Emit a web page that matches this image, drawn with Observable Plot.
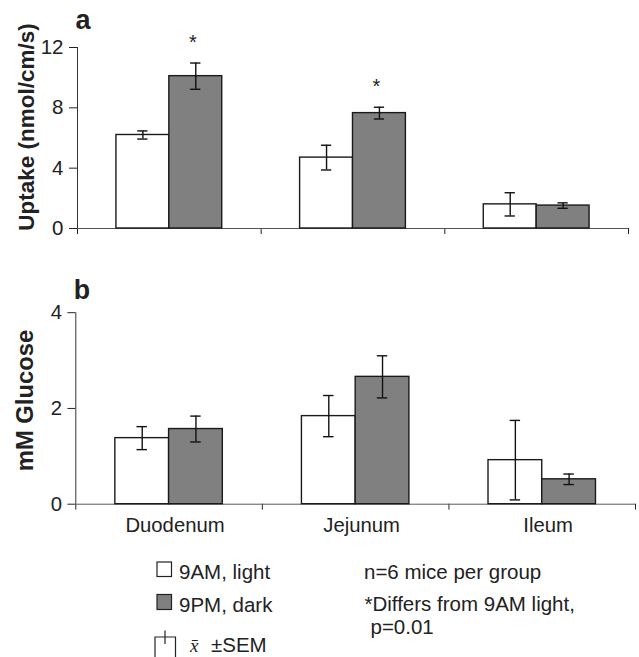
<!DOCTYPE html>
<html>
<head>
<meta charset="utf-8">
<script src="https://cdn.jsdelivr.net/npm/d3@7"></script>
<script src="https://cdn.jsdelivr.net/npm/@observablehq/plot@0.6"></script>
<style>
  html, body { margin: 0; padding: 0; background: #fff; overflow: hidden; }
  #wrap { position: relative; width: 639px; height: 657px; overflow: hidden; font-family: "Liberation Sans", Arial, sans-serif; }
  #wrap > svg, #wrap > .pa, #wrap > .pb { position: absolute; left: 0; }
</style>
</head>
<body>
<div id="wrap"></div>
<script>
// ---- data ----
const categories = ["Duodenum", "Jejunum", "Ileum"];
const groups = ["9AM, light", "9PM, dark"];

const uptake9AM = [6.2, 4.7, 1.6];
const uptake9AMsem = [0.27, 0.82, 0.77];
const uptake9PM = [10.1, 7.65, 1.52];
const uptake9PMsem = [0.87, 0.39, 0.18];
const uptake9PMdiffers = [true, true, false];

const glucose9AM = [1.38, 1.84, 0.92];
const glucose9AMsem = [0.24, 0.43, 0.83];
const glucose9PM = [1.57, 2.66, 0.52];
const glucose9PMsem = [0.27, 0.44, 0.11];

const uptakeTicks = [0, 4, 8, 12];
const glucoseTicks = [0, 2, 4];
const boundaryTicks = [0, 1, 2, 3];

const fills = ["#ffffff", "#808080"];
const BW = 0.288;   // bar width as a fraction of a category band
const CAP = 0.028;  // half cap width, fraction of a band

function buildRows(m0, s0, m1, s1, sig1) {
  const rows = [];
  categories.forEach((c, i) => {
    rows.push({cat: c, i, g: groups[0], k: 0, mean: m0[i], sem: s0[i], sig: false});
    rows.push({cat: c, i, g: groups[1], k: 1, mean: m1[i], sem: s1[i], sig: sig1 ? sig1[i] : false});
  });
  return rows;
}
const center = d => d.i + 0.5 + (d.k - 0.5) * BW;

function panel(o) {
  const rows = o.rows;
  const marks = [
    Plot.ruleY([0], {stroke: "#555", strokeWidth: 1}),
    Plot.ruleX([0], {stroke: "#333", strokeWidth: 1}),
    Plot.rect(rows, {
      x1: d => d.i + 0.5 + (d.k - 1) * BW,
      x2: d => d.i + 0.5 + d.k * BW,
      y1: 0, y2: "mean",
      fill: d => fills[d.k], stroke: "#1a1a1a", strokeWidth: 1.4
    }),
    Plot.ruleX(rows, {x: center, y1: d => d.mean - d.sem, y2: d => d.mean + d.sem, stroke: "#111", strokeWidth: 1.4}),
    Plot.ruleY(rows, {y: d => d.mean + d.sem, x1: d => center(d) - CAP, x2: d => center(d) + CAP, stroke: "#111", strokeWidth: 1.4}),
    Plot.ruleY(rows, {y: d => d.mean - d.sem, x1: d => center(d) - CAP, x2: d => center(d) + CAP, stroke: "#111", strokeWidth: 1.4}),
    Plot.text(rows.filter(d => d.sig), {x: center, y: d => d.mean + d.sem, text: () => "*", lineAnchor: "bottom", dy: -14, dx: -3, fontSize: 20}),
    Plot.text([o.title], {text: d => d, frameAnchor: "left", rotate: -90, dx: o.titleDx, dy: o.titleDy, fontWeight: "bold", fontSize: o.titleSize, textAnchor: "middle"}),
    Plot.text([o.letter], {text: d => d, frameAnchor: "top-left", textAnchor: "start", lineAnchor: "bottom", dy: o.letterDy, dx: -2, fontWeight: "bold", fontSize: 27})
  ];
  if (o.showLabels) {
    marks.push(Plot.text(categories, {x: (d, i) => i + 0.5, text: d => d, frameAnchor: "bottom", lineAnchor: "top", dy: 14, dx: 6}));
  }
  return Plot.plot({
    width: o.width, height: o.height,
    marginLeft: o.marginLeft, marginRight: o.marginRight,
    marginTop: o.marginTop, marginBottom: o.marginBottom,
    style: {fontFamily: "'Liberation Sans', Arial, sans-serif", fontSize: "20.5px", color: "#222", background: "transparent", overflow: "visible"},
    x: {domain: [0, 3], ticks: boundaryTicks, tickFormat: () => "", tickSize: 6, label: null},
    y: {domain: [o.yTicks[0], o.yTicks[o.yTicks.length - 1]], ticks: o.yTicks, tickFormat: d => String(d), tickSize: 8, tickPadding: 6, label: null},
    marks
  });
}

const wrap = document.getElementById("wrap");

const a = panel({
  rows: buildRows(uptake9AM, uptake9AMsem, uptake9PM, uptake9PMsem, uptake9PMdiffers),
  yTicks: uptakeTicks, title: "Uptake (nmol/cm/s)", letter: "a",
  width: 639, height: 240, marginLeft: 77, marginRight: 11, marginTop: 47, marginBottom: 12,
  titleDx: -51, titleDy: -11, titleSize: 22.5, letterDy: -19, showLabels: false
});
a.classList.add("pa");
a.style.top = "0px";
wrap.appendChild(a);

const b = panel({
  rows: buildRows(glucose9AM, glucose9AMsem, glucose9PM, glucose9PMsem, null),
  yTicks: glucoseTicks, title: "mM Glucose", letter: "b",
  width: 645, height: 286, marginLeft: 76, marginRight: 4, marginTop: 52.7, marginBottom: 40,
  titleDx: -50.5, titleDy: -8, titleSize: 24, letterDy: -13.4, showLabels: true
});
b.classList.add("pb");
b.style.top = "260px";
wrap.appendChild(b);

// ---- legend ----
const leg = d3.select(wrap).append("svg")
  .attr("width", 639).attr("height", 657)
  .style("top", "0px")
  .style("font-family", "'Liberation Sans', Arial, sans-serif")
  .style("font-size", "20.5px")
  .attr("fill", "#222");

leg.append("rect").attr("x", 157).attr("y", 562).attr("width", 14.5).attr("height", 14.5)
  .attr("fill", fills[0]).attr("stroke", "#222").attr("stroke-width", 1.2);
leg.append("text").attr("x", 179).attr("y", 579).text(groups[0]);
leg.append("rect").attr("x", 157).attr("y", 594.5).attr("width", 14.5).attr("height", 15)
  .attr("fill", fills[1]).attr("stroke", "#222").attr("stroke-width", 1.2);
leg.append("text").attr("x", 179).attr("y", 611.5).text(groups[1]);

// error-bar key
leg.append("path").attr("d", "M155,660V637H175.5V660").attr("fill", "none").attr("stroke", "#222").attr("stroke-width", 1.2);
leg.append("path").attr("d", "M165,630.5V644").attr("fill", "none").attr("stroke", "#222").attr("stroke-width", 1.2);
leg.append("text").attr("x", 190).attr("y", 651.5).attr("font-family", "'Liberation Serif', 'DejaVu Serif', serif")
  .attr("font-style", "italic").attr("font-size", 19).text("x\u0304");
leg.append("text").attr("x", 211).attr("y", 651.5).text("\u00b1SEM");

leg.append("text").attr("x", 364).attr("y", 579).text("n=6 mice per group");
leg.append("text").attr("x", 364.5).attr("y", 610.5).text("*Differs from 9AM light,");
leg.append("text").attr("x", 370.5).attr("y", 634).text("p=0.01");
</script>
</body>
</html>
